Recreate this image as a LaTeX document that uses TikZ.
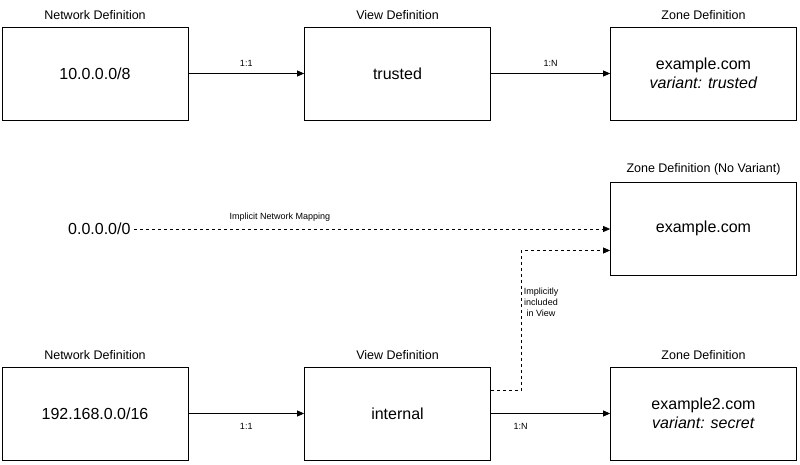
\documentclass[tikz,border=0pt]{standalone}
\usepackage{fontspec}
\setmainfont{Liberation Sans}
\usetikzlibrary{arrows.meta,positioning}
\tikzset{>={Triangle[length=7pt,width=6pt]}}

\begin{document}
\begin{tikzpicture}[x=1pt,y=-1pt,
                    defbox/.style={draw, thick, minimum width=186pt, minimum height=93pt, font=\fontsize{16}{19}\selectfont, align=center, inner sep=0pt},
                    title/.style={font=\fontsize{12.5}{14}\selectfont},
                    maplabel/.style={font=\fontsize{9}{11}\selectfont, align=center},
                    link/.style={thick, ->},
                    implicit/.style={thick, dashed, ->},
                   ]

\useasboundingbox (0,0) rectangle (800,464);

% top row
\node[defbox] (net1) at (95,73.5) {10.0.0.0/8};
\node[defbox] (view1) at (397.5,73.5) {trusted};
\node[defbox] (zone1) at (703.5,73.5) {example.com\\\textit{variant: trusted}};
\node[title, above=3pt of net1] {Network Definition};
\node[title, above=3pt of view1] {View Definition};
\node[title, above=3pt of zone1] {Zone Definition};

\draw[link] (net1) -- node[maplabel, above=3pt] {1:1} (view1);
\draw[link] (view1) -- node[maplabel, above=3pt] {1:N} (zone1);

% default zone
\node[defbox] (zone0) at (703.5,228.5) {example.com};
\node[title, above=3pt of zone0] {Zone Definition (No Variant)};
\node[font=\fontsize{16}{19}\selectfont, anchor=east] (any) at (134,229) {0.0.0.0/0};
\draw[implicit] (any) -- (zone0.west |- any);
\node[maplabel] at (280,217) {Implicit Network Mapping};

% bottom row
\node[defbox] (net2) at (95,413.5) {192.168.0.0/16};
\node[defbox] (view2) at (397.5,413.5) {internal};
\node[defbox] (zone2) at (703.5,413.5) {example2.com\\\textit{variant: secret}};
\node[title, above=3pt of net2] {Network Definition};
\node[title, above=3pt of view2] {View Definition};
\node[title, above=3pt of zone2] {Zone Definition};

\draw[link] (net2) -- node[maplabel, below=6pt] {1:1} (view2);
\draw[link] (view2) -- node[maplabel, below=6pt, xshift=-30pt] {1:N} (zone2);

\coordinate (tap) at ([yshift=23pt]view2.east);
\draw[implicit] (tap) -- ++(30,0) |- ([yshift=-22pt]zone0.west);
\node[maplabel] at (541,302) {Implicitly\\included\\in View};

\end{tikzpicture}
\end{document}
